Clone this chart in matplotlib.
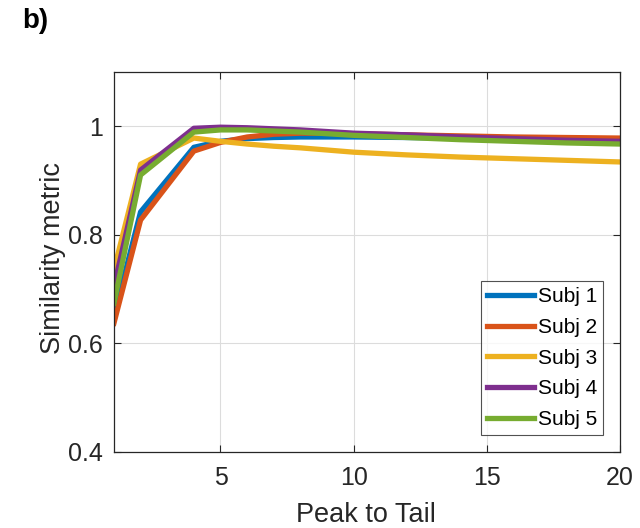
import matplotlib
matplotlib.use("Agg")
import matplotlib.pyplot as plt

plt.rcParams['font.family'] = ['Liberation Sans', 'DejaVu Sans']

x = [1, 2, 4, 5, 6, 7, 8, 9, 10, 12, 14, 16, 18, 20]
subj1 = [0.650, 0.842, 0.961, 0.972, 0.977, 0.979, 0.980, 0.980, 0.980, 0.979, 0.978, 0.977, 0.976, 0.975]
subj2 = [0.637, 0.827, 0.954, 0.970, 0.980, 0.985, 0.987, 0.987, 0.986, 0.984, 0.982, 0.980, 0.979, 0.978]
subj3 = [0.735, 0.930, 0.978, 0.972, 0.967, 0.963, 0.960, 0.956, 0.952, 0.947, 0.943, 0.940, 0.937, 0.934]
subj4 = [0.704, 0.919, 0.996, 0.998, 0.997, 0.995, 0.993, 0.990, 0.987, 0.984, 0.980, 0.977, 0.974, 0.972]
subj5 = [0.674, 0.910, 0.989, 0.993, 0.993, 0.991, 0.989, 0.986, 0.983, 0.979, 0.975, 0.972, 0.969, 0.967]
series = [subj1, subj2, subj3, subj4, subj5]
labels = ["Subj 1", "Subj 2", "Subj 3", "Subj 4", "Subj 5"]
colors = ["#0072BD", "#D95319", "#EDB120", "#7E2F8E", "#77AC30"]

xticks = [5, 10, 15, 20]
yticks = [0.4, 0.6, 0.8, 1.0]
yticklabels = ["0.4", "0.6", "0.8", "1"]

fig = plt.figure(figsize=(6.4, 5.28), dpi=100)
ax = fig.add_axes([0.178, 0.144, 0.791, 0.720])

for s, lab, c in zip(series, labels, colors):
    ax.plot(x, s, color=c, lw=3.8, label=lab)

ax.set_xlim(1, 20)
ax.set_ylim(0.4, 1.1)
ax.set_xticks(xticks)
ax.set_yticks(yticks)
ax.set_yticklabels(yticklabels)
ax.grid(True, color='#dcdcdc', lw=0.8)
ax.set_axisbelow(True)
ax.tick_params(direction='in', top=True, right=True, labelsize=18, colors='#262626', length=5)
ax.tick_params(axis='x', pad=10)
ax.tick_params(axis='y', pad=8)
for sp in ax.spines.values():
    sp.set_color('#262626')
    sp.set_linewidth(0.9)

ax.set_xlabel("Peak to Tail", fontsize=19.5, color='#262626')
ax.set_ylabel("Similarity metric", fontsize=19.5, color='#262626')
ax.xaxis.set_label_coords(0.498, -0.132)
ax.yaxis.set_label_coords(-0.095, 0.51)

leg = ax.legend(loc='lower right', fontsize=15, frameon=True, fancybox=False,
                edgecolor='#262626', handlelength=2.25, handletextpad=0.2,
                labelspacing=0.56, borderpad=0.3, borderaxespad=0.8)
leg.get_frame().set_linewidth(0.8)

fig.text(0.034, 0.960, "b)", fontsize=20, fontweight='bold', va='center', ha='left')

fig.savefig("out.png", dpi=100)
